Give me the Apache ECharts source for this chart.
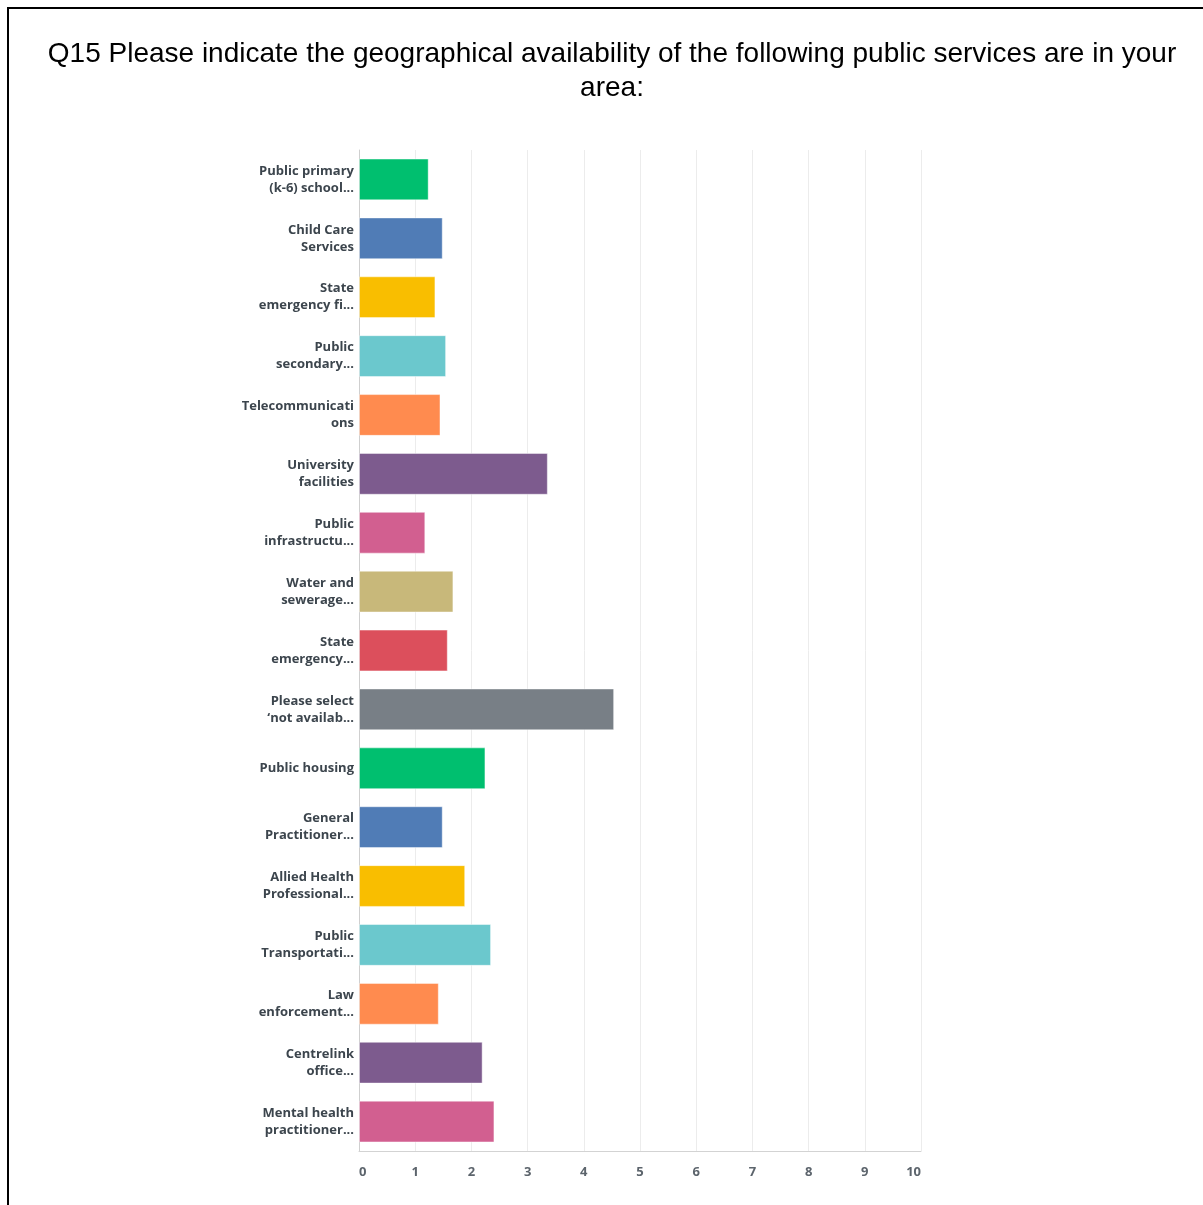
<!DOCTYPE html>
<html>
<head>
<meta charset="utf-8">
<script src="https://cdn.jsdelivr.net/npm/echarts@6/dist/echarts.min.js"></script>
<style>
  html, body { margin: 0; padding: 0; background: #fff; }
  #chart { width: 1203px; height: 1205px; }
</style>
</head>
<body>
<div id="chart"></div>
<script>
// Survey question services (category axis, top to bottom)
const categories = [
  'Public primary\n(k-6) school...',
  'Child Care\nServices',
  'State\nemergency fi...',
  'Public\nsecondary...',
  'Telecommunicati\nons',
  'University\nfacilities',
  'Public\ninfrastructu...',
  'Water and\nsewerage...',
  'State\nemergency...',
  'Please select\n\u2018not availab...',
  'Public housing',
  'General\nPractitioner...',
  'Allied Health\nProfessional...',
  'Public\nTransportati...',
  'Law\nenforcement...',
  'Centrelink\noffice...',
  'Mental health\npractitioner...'
];

// Weighted average per service
const values = [1.24, 1.49, 1.36, 1.55, 1.45, 3.36, 1.18, 1.68, 1.58, 4.54, 2.25, 1.49, 1.89, 2.35, 1.42, 2.20, 2.41];

// Bar colour cycle (restarts after ten bars)
const palette = ['#00bf6f', '#507cb6', '#f9be00', '#6bc8cd', '#ff8b4f', '#7d5b8e', '#d25f90', '#c8b87a', '#dc4f5c', '#787f86'];

// Value axis ticks
const xTicks = [0, 1, 2, 3, 4, 5, 6, 7, 8, 9, 10];

const titleLines = [
  'Q15 Please indicate the geographical availability of the following public services are in your',
  'area:'
];

const chart = echarts.init(document.getElementById('chart'));

const titleFont = '28px "Liberation Sans", Arial, sans-serif';

chart.setOption({
  backgroundColor: '#ffffff',
  animation: false,
  graphic: [
    {
      type: 'polyline',
      shape: { points: [[8, 1205], [8, 8], [1203, 8]] },
      style: { stroke: '#000000', lineWidth: 2, fill: null }
    },
    {
      type: 'text',
      x: 612, y: 54,
      style: {
        text: titleLines[0],
        font: titleFont,
        fill: '#000000',
        textAlign: 'center',
        textVerticalAlign: 'middle'
      }
    },
    {
      type: 'text',
      x: 612, y: 88,
      style: {
        text: titleLines[1],
        font: titleFont,
        fill: '#000000',
        textAlign: 'center',
        textVerticalAlign: 'middle'
      }
    }
  ],
  grid: { left: 359, right: 282, top: 150, bottom: 54, containLabel: false },
  xAxis: {
    type: 'value',
    min: xTicks[0],
    max: xTicks[xTicks.length - 1],
    interval: 1,
    axisLine: { show: true, lineStyle: { color: '#d3d3d3', width: 1 } },
    axisTick: { show: false },
    splitLine: { show: true, lineStyle: { color: '#ececec', width: 1 } },
    axisLabel: {
      margin: 15,
      color: '#5c646c',
      fontFamily: '"Open Sans", sans-serif',
      fontWeight: 'bold',
      fontSize: 13,
      alignMinLabel: 'left',
      alignMaxLabel: 'right'
    }
  },
  yAxis: {
    type: 'category',
    data: categories,
    inverse: true,
    axisLine: { show: true, lineStyle: { color: '#cfcfcf', width: 1 } },
    axisTick: { show: false },
    splitLine: { show: false },
    axisLabel: {
      margin: 5,
      color: '#3c454d',
      fontFamily: '"Open Sans", sans-serif',
      fontWeight: 'bold',
      fontSize: 13,
      lineHeight: 17,
      align: 'right'
    }
  },
  series: [{
    type: 'bar',
    data: values.map((v, i) => ({
      value: v,
      itemStyle: { color: palette[i % palette.length] }
    })),
    barWidth: '71%',
    itemStyle: {
      borderColor: 'rgba(255,255,255,0.45)',
      borderWidth: 1
    }
  }]
});
</script>
</body>
</html>
